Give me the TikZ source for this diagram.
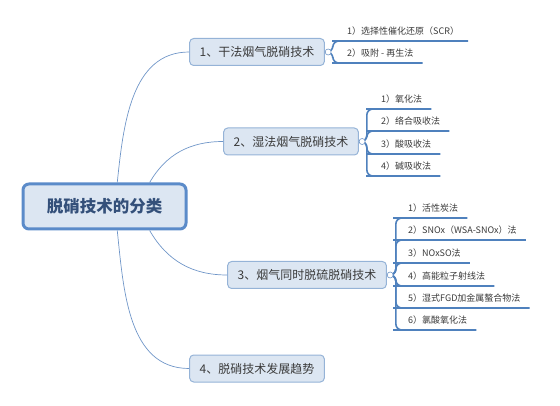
\documentclass[tikz,border=0pt]{standalone}
\usepackage{fontspec}
\setmainfont{Noto Sans CJK SC}
\usetikzlibrary{positioning}

\definecolor{boxfill}{HTML}{DCE6F2}
\definecolor{boxline}{HTML}{95B3D7}
\definecolor{rootline}{HTML}{5B8BC9}
\definecolor{roottext}{HTML}{34507A}
\definecolor{linkline}{HTML}{7096C8}
\definecolor{leafline}{HTML}{4F81BD}
\definecolor{txt}{HTML}{3A3A3A}

\begin{document}
\begin{tikzpicture}[x=1pt, y=-1pt,
	rootbox/.style={shape=rectangle, rounded corners=6pt, draw=rootline, line width=3pt, fill=boxfill, text=roottext, font=\fontsize{16.5}{18}\selectfont\bfseries, minimum width=163pt, minimum height=45pt},
	topicbox/.style={shape=rectangle, rounded corners=4pt, draw=boxline, line width=1pt, fill=boxfill, text=txt, font=\fontsize{12}{14}\selectfont, inner xsep=10pt, minimum height=27pt},
	fold/.style={shape=circle, draw=linkline, fill=white, line width=0.6pt, inner sep=0pt, minimum size=6pt},
	leaf/.style={anchor=south west, text=txt, font=\fontsize{9}{10}\selectfont, inner xsep=9pt, inner ysep=5pt},
	link/.style={draw=linkline, line width=0.7pt},
	brace/.style={draw=leafline, line width=1.6pt, rounded corners=6pt}]
			\useasboundingbox (0, 0) rectangle (560, 406);
			% main topic and the four branches
			\node[rootbox](R) at (104.5, 206.5){脱硝技术的分类};
			\node[topicbox](T1) at (257, 52){1、干法烟气脱硝技术};
			\node[topicbox](T2) at (291, 141.5){2、湿法烟气脱硝技术};
			\node[topicbox](T3) at (307, 275){3、烟气同时脱硫脱硝技术};
			\node[topicbox](T4) at (257, 368.5){4、脱硝技术发展趋势};
			\draw[link] (R.62) to[out=84, in=180] (T1.west);
			\draw[link] (R.28) to[out=60, in=180] (T2.west);
			\draw[link] (R.-28) to[out=-60, in=180] (T3.west);
			\draw[link] (R.-62) to[out=-84, in=180] (T4.west);
			% leaves of branch 1
			\node[leaf](A1) at (338, 41){1）选择性催化还原（SCR）};
			\node[leaf](A2) at (338, 63){2）吸附 - 再生法};
			\foreach \l in {A1, A2}
				\draw[brace] (T1.east) ++(4, 0) -- ++(4, 0) |- (\l.south west) -- (\l.south east);
			\node[fold, right=0pt of T1](F1){};
			% leaves of branch 2
			\node[leaf](B1) at (372, 109){1）氧化法};
			\node[leaf](B2) at (372, 131){2）络合吸收法};
			\node[leaf](B3) at (372, 154){3）酸吸收法};
			\node[leaf](B4) at (372, 176){4）碱吸收法};
			\foreach \l in {B1, B2, B3, B4}
				\draw[brace] (T2.east) ++(4, 0) -- ++(4, 0) |- (\l.south west) -- (\l.south east);
			\node[fold, right=0pt of T2](F2){};
			% leaves of branch 3
			\node[leaf](C1) at (399, 218){1）活性炭法};
			\node[leaf](C2) at (399, 240){2）SNOx（WSA-SNOx）法};
			\node[leaf](C3) at (399, 263){3）NOxSO法};
			\node[leaf](C4) at (399, 286){4）高能粒子射线法};
			\node[leaf](C5) at (399, 308){5）湿式FGD加金属螯合物法};
			\node[leaf](C6) at (399, 330){6）氯酸氧化法};
			\foreach \l in {C1, C2, C3, C4, C5, C6}
				\draw[brace] (T3.east) ++(4, 0) -- ++(5, 0) |- (\l.south west) -- (\l.south east);
			\node[fold, right=0pt of T3](F3){};
		\end{tikzpicture}
\end{document}
